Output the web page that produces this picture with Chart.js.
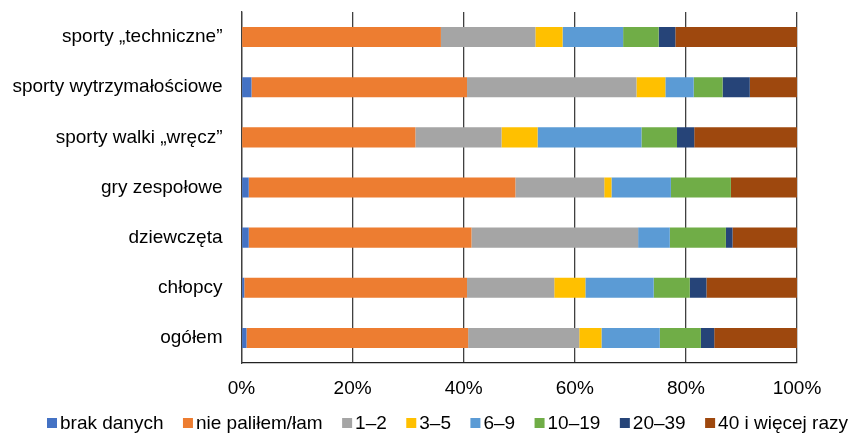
<!DOCTYPE html>
<html>
<head>
<meta charset="utf-8">
<script src="https://cdn.jsdelivr.net/npm/chart.js@4/dist/chart.umd.min.js"></script>
<style>
  html, body { margin: 0; padding: 0; background: #fff; }
  #wrap { width: 849px; height: 435px; }
</style>
</head>
<body>
<div id="wrap"><canvas id="c" width="849" height="435"></canvas></div>
<script>
// Groups (rows, top to bottom)
const categories = [
  'sporty „techniczne”',
  'sporty wytrzymałościowe',
  'sporty walki „wręcz”',
  'gry zespołowe',
  'dziewczęta',
  'chłopcy',
  'ogółem'
];

// Share of respondents (%) per answer, one array per answer, in row order
const brakDanych   = [0.0, 1.8, 0.0, 1.3, 1.3, 0.5, 0.9];
const niePalilem   = [35.9, 38.8, 31.3, 48.0, 40.1, 40.1, 39.9];
const razy1_2      = [17.0, 30.5, 15.5, 16.0, 30.0, 15.7, 20.0];
const razy3_5      = [4.9, 5.2, 6.5, 1.3, 0.0, 5.6, 4.0];
const razy6_9      = [10.9, 5.1, 18.7, 10.7, 5.7, 12.3, 10.5];
const razy10_19    = [6.4, 5.2, 6.4, 10.8, 10.1, 6.5, 7.4];
const razy20_39    = [3.0, 4.9, 3.1, 0.0, 1.2, 3.0, 2.4];
const razy40plus   = [21.9, 8.5, 18.5, 11.9, 11.6, 16.3, 14.9];

const seriesNames = ['brak danych', 'nie paliłem/łam', '1–2', '3–5', '6–9', '10–19', '20–39', '40 i więcej razy'];
const seriesValues = [brakDanych, niePalilem, razy1_2, razy3_5, razy6_9, razy10_19, razy20_39, razy40plus];
const seriesColors = ['#4472C4', '#ED7D31', '#A5A5A5', '#FFC000', '#5B9BD5', '#70AD47', '#264478', '#9E480E'];

// X axis tick labels
const xTicks = [0, 20, 40, 60, 80, 100];

const FONT = '"Liberation Sans", Arial, Helvetica, sans-serif';

const datasets = seriesNames.map((name, i) => ({
  label: name,
  data: seriesValues[i],
  backgroundColor: seriesColors[i],
  borderWidth: 0,
  barPercentage: 0.8,
  categoryPercentage: 0.5
}));

// Legend row below the axis, spread across the width
const bottomLegend = {
  id: 'bottomLegend',
  afterDraw(chart) {
    const ctx = chart.ctx;
    ctx.save();
    ctx.font = '19px ' + FONT;
    ctx.textBaseline = 'middle';
    ctx.textAlign = 'left';
    const box = 10, boxGap = 3;
    const widths = chart.data.datasets.map(d => box + boxGap + ctx.measureText(d.label).width);
    const total = widths.reduce((a, b) => a + b, 0);
    const startX = 47, endX = 848;
    const gap = (endX - startX - total) / (widths.length - 1);
    const y = 423;
    let x = startX;
    chart.data.datasets.forEach((d, i) => {
      ctx.fillStyle = d.backgroundColor;
      ctx.fillRect(x, y - box / 2, box, box);
      ctx.fillStyle = '#000';
      ctx.fillText(d.label, x + box + boxGap, y + 1);
      x += widths[i] + gap;
    });
    ctx.restore();
  }
};

new Chart(document.getElementById('c'), {
  type: 'bar',
  data: { labels: categories, datasets },
  options: {
    indexAxis: 'y',
    responsive: false,
    animation: false,
    devicePixelRatio: 1,
    layout: { padding: { top: 12, right: 52, bottom: 32, left: 0 } },
    plugins: {
      legend: { display: false },
      tooltip: { enabled: false }
    },
    scales: {
      x: {
        stacked: true,
        min: 0,
        max: 100,
        afterBuildTicks(scale) { scale.ticks = xTicks.map(v => ({ value: v })); },
        afterFit(scale) { scale.height = 40; },
        ticks: {
          callback: v => v + '%',
          color: '#000',
          font: { family: FONT, size: 19 },
          padding: 14,
          maxRotation: 0
        },
        grid: { color: '#404040', lineWidth: 1.3, drawTicks: false },
        border: { display: true, color: '#222', width: 1.3 }
      },
      y: {
        stacked: true,
        afterFit(scale) {
          scale.width = 241.5;
          scale.paddingTop = 0;
          scale.paddingBottom = 0;
        },
        ticks: {
          color: '#000',
          font: { family: FONT, size: 19 },
          padding: 19
        },
        grid: { display: false, drawTicks: false },
        border: { display: true, color: '#404040', width: 1.3 }
      }
    }
  },
  plugins: [bottomLegend]
});
</script>
</body>
</html>
